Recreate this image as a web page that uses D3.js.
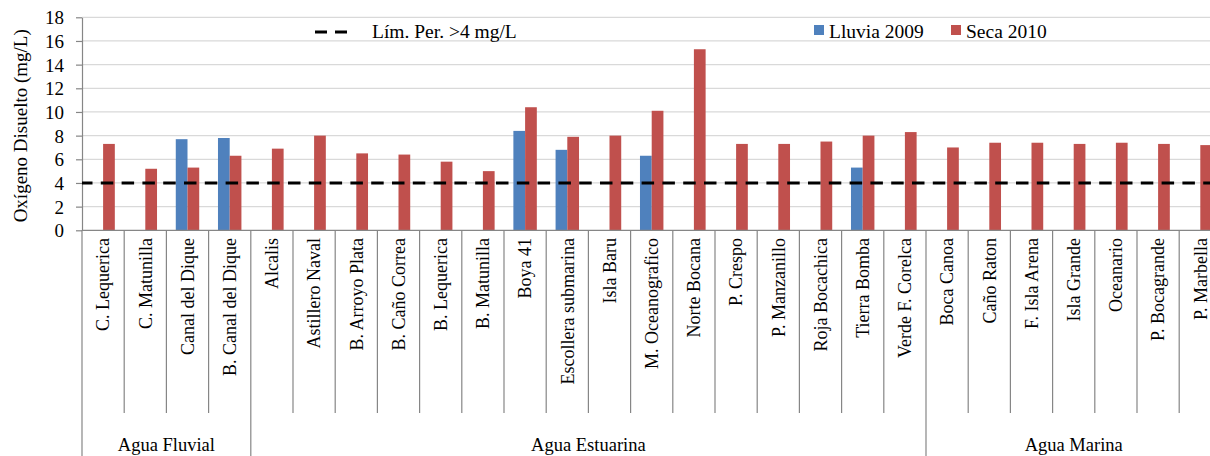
<!DOCTYPE html>
<html>
<head>
<meta charset="utf-8">
<script src="https://cdn.jsdelivr.net/npm/d3@7"></script>
<style>
  html, body { margin: 0; padding: 0; background: #fff; }
  svg { display: block; font-family: "Liberation Serif", "Times New Roman", serif; }
</style>
</head>
<body>
<svg id="chart" width="1210" height="456"></svg>
<script>
const categories = [
  "C. Lequerica", "C. Matunilla", "Canal del Dique", "B. Canal del Dique",
  "Alcalis", "Astillero Naval", "B. Arroyo Plata", "B. Caño Correa", "B. Lequerica",
  "B. Matunilla", "Boya 41", "Escollera submarina", "Isla Baru", "M. Oceanografico",
  "Norte Bocana", "P. Crespo", "P. Manzanillo", "Roja Bocachica", "Tierra Bomba",
  "Verde F. Corelca",
  "Boca Canoa", "Caño Raton", "F. Isla Arena", "Isla Grande", "Oceanario",
  "P. Bocagrande", "P. Marbella"
];
const groups = ["Agua Fluvial", "Agua Estuarina", "Agua Marina"];
const groupSizes = [4, 16, 7];
const seriesNames = ["Lluvia 2009", "Seca 2010"];
const lluvia2009 = [null, null, 7.7, 7.8, null, null, null, null, null, null, 8.4, 6.8, null, 6.3,
  null, null, null, null, 5.3, null, null, null, null, null, null, null, null];
const seca2010 = [7.3, 5.2, 5.3, 6.3, 6.9, 8.0, 6.5, 6.4, 5.8, 5.0, 10.4, 7.9, 8.0, 10.1,
  15.3, 7.3, 7.3, 7.5, 8.0, 8.3, 7.0, 7.4, 7.4, 7.3, 7.4, 7.3, 7.2];
const yTicks = [0, 2, 4, 6, 8, 10, 12, 14, 16, 18];
const limitValue = 4;
const limitLabel = "Lím. Per. >4 mg/L";
const yTitle = "Oxígeno Disuelto (mg/L)";
const colors = ["#4F81BD", "#C0504D"];

(function () {
const svg = d3.select("#chart");
const mLeft = 82, mTop = 17.3, mBottom = 230.3;
const step = 42.2;
const mRight = mLeft + step * categories.length;

const x = d3.scaleBand().domain(categories).range([mLeft, mRight]).padding(0);
const x1 = d3.scaleBand().domain(seriesNames).range([0, x.bandwidth()]).paddingInner(0).paddingOuter(0.8);
const y = d3.scaleLinear().domain([0, 18]).range([mBottom, mTop]);

// gridlines
svg.append("g").selectAll("line").data(yTicks.filter(d => d > 0)).join("line")
  .attr("x1", mLeft).attr("x2", 1210)
  .attr("y1", d => y(d)).attr("y2", d => y(d))
  .attr("stroke", "#d9d9d9").attr("stroke-width", 1.3);

// bars
const series = [lluvia2009, seca2010];
series.forEach((vals, si) => {
  svg.append("g").selectAll("rect")
    .data(categories.map((c, i) => ({ c, v: vals[i] })).filter(d => d.v != null))
    .join("rect")
    .attr("x", d => x(d.c) + x1(seriesNames[si]))
    .attr("width", x1.bandwidth())
    .attr("y", d => y(d.v))
    .attr("height", d => y(0) - y(d.v))
    .attr("fill", colors[si]);
});

// y axis
const yAxis = svg.append("g").attr("transform", `translate(${mLeft},0)`)
  .call(d3.axisLeft(y).tickValues(yTicks).tickSize(6).tickPadding(12).tickSizeOuter(0));
yAxis.select(".domain").attr("stroke", "#868686").attr("stroke-width", 1.2);
yAxis.selectAll(".tick line").attr("stroke", "#868686").attr("stroke-width", 1.2);
yAxis.selectAll(".tick text").attr("font-size", 19).attr("fill", "#000")
  .attr("font-family", "Liberation Serif").attr("dy", "0.34em");

// x axis baseline
svg.append("line").attr("x1", mLeft).attr("x2", 1210).attr("y1", y(0)).attr("y2", y(0))
  .attr("stroke", "#868686").attr("stroke-width", 1.2);

// category separators
const groupStarts = [0];
groupSizes.forEach((s, i) => groupStarts.push(groupStarts[i] + s));
const boundaries = d3.range(categories.length + 1);
svg.append("g").selectAll("line").data(boundaries).join("line")
  .attr("x1", i => mLeft + i * x.step()).attr("x2", i => mLeft + i * x.step())
  .attr("y1", y(0))
  .attr("y2", i => groupStarts.includes(i) ? 456 : 413)
  .attr("stroke", "#868686").attr("stroke-width", 1.2);

// category labels
svg.append("g").selectAll("text").data(categories).join("text")
  .attr("transform", d => `translate(${x(d) + x.bandwidth() / 2},238) rotate(-90)`)
  .attr("text-anchor", "end")
  .attr("dy", "0.35em")
  .attr("font-size", 18)
  .text(d => d);

// group labels
svg.append("g").selectAll("text").data(groups).join("text")
  .attr("x", (g, i) => {
    const a = mLeft + groupStarts[i] * x.step();
    const b = mLeft + groupStarts[i + 1] * x.step();
    return (a + b) / 2;
  })
  .attr("y", 451)
  .attr("text-anchor", "middle")
  .attr("font-size", 18.5)
  .text(d => d);

// limit line
svg.append("line").attr("x1", mLeft).attr("x2", 1210)
  .attr("y1", y(limitValue)).attr("y2", y(limitValue))
  .attr("stroke", "#000").attr("stroke-width", 3)
  .attr("stroke-dasharray", "12.5,8.3").attr("stroke-dashoffset", 2);

// y title
svg.append("text")
  .attr("transform", `translate(20,${(mTop + mBottom) / 2 + 2}) rotate(-90)`)
  .attr("text-anchor", "middle").attr("dy", "0.35em")
  .attr("font-size", 19)
  .text(yTitle);

// legend
const lg = svg.append("g");
lg.append("line").attr("x1", 315).attr("x2", 347).attr("y1", 32).attr("y2", 32)
  .attr("stroke", "#000").attr("stroke-width", 3).attr("stroke-dasharray", "12,8");
lg.append("text").attr("x", 372).attr("y", 38).attr("font-size", 19.5).text(limitLabel);
const legX = [814, 951];
seriesNames.forEach((s, i) => {
  lg.append("rect").attr("x", legX[i]).attr("y", 25).attr("width", 10).attr("height", 10).attr("fill", colors[i]);
  lg.append("text").attr("x", legX[i] + 15).attr("y", 38).attr("font-size", 19.5).text(s);
});
})();
</script>
</body>
</html>
